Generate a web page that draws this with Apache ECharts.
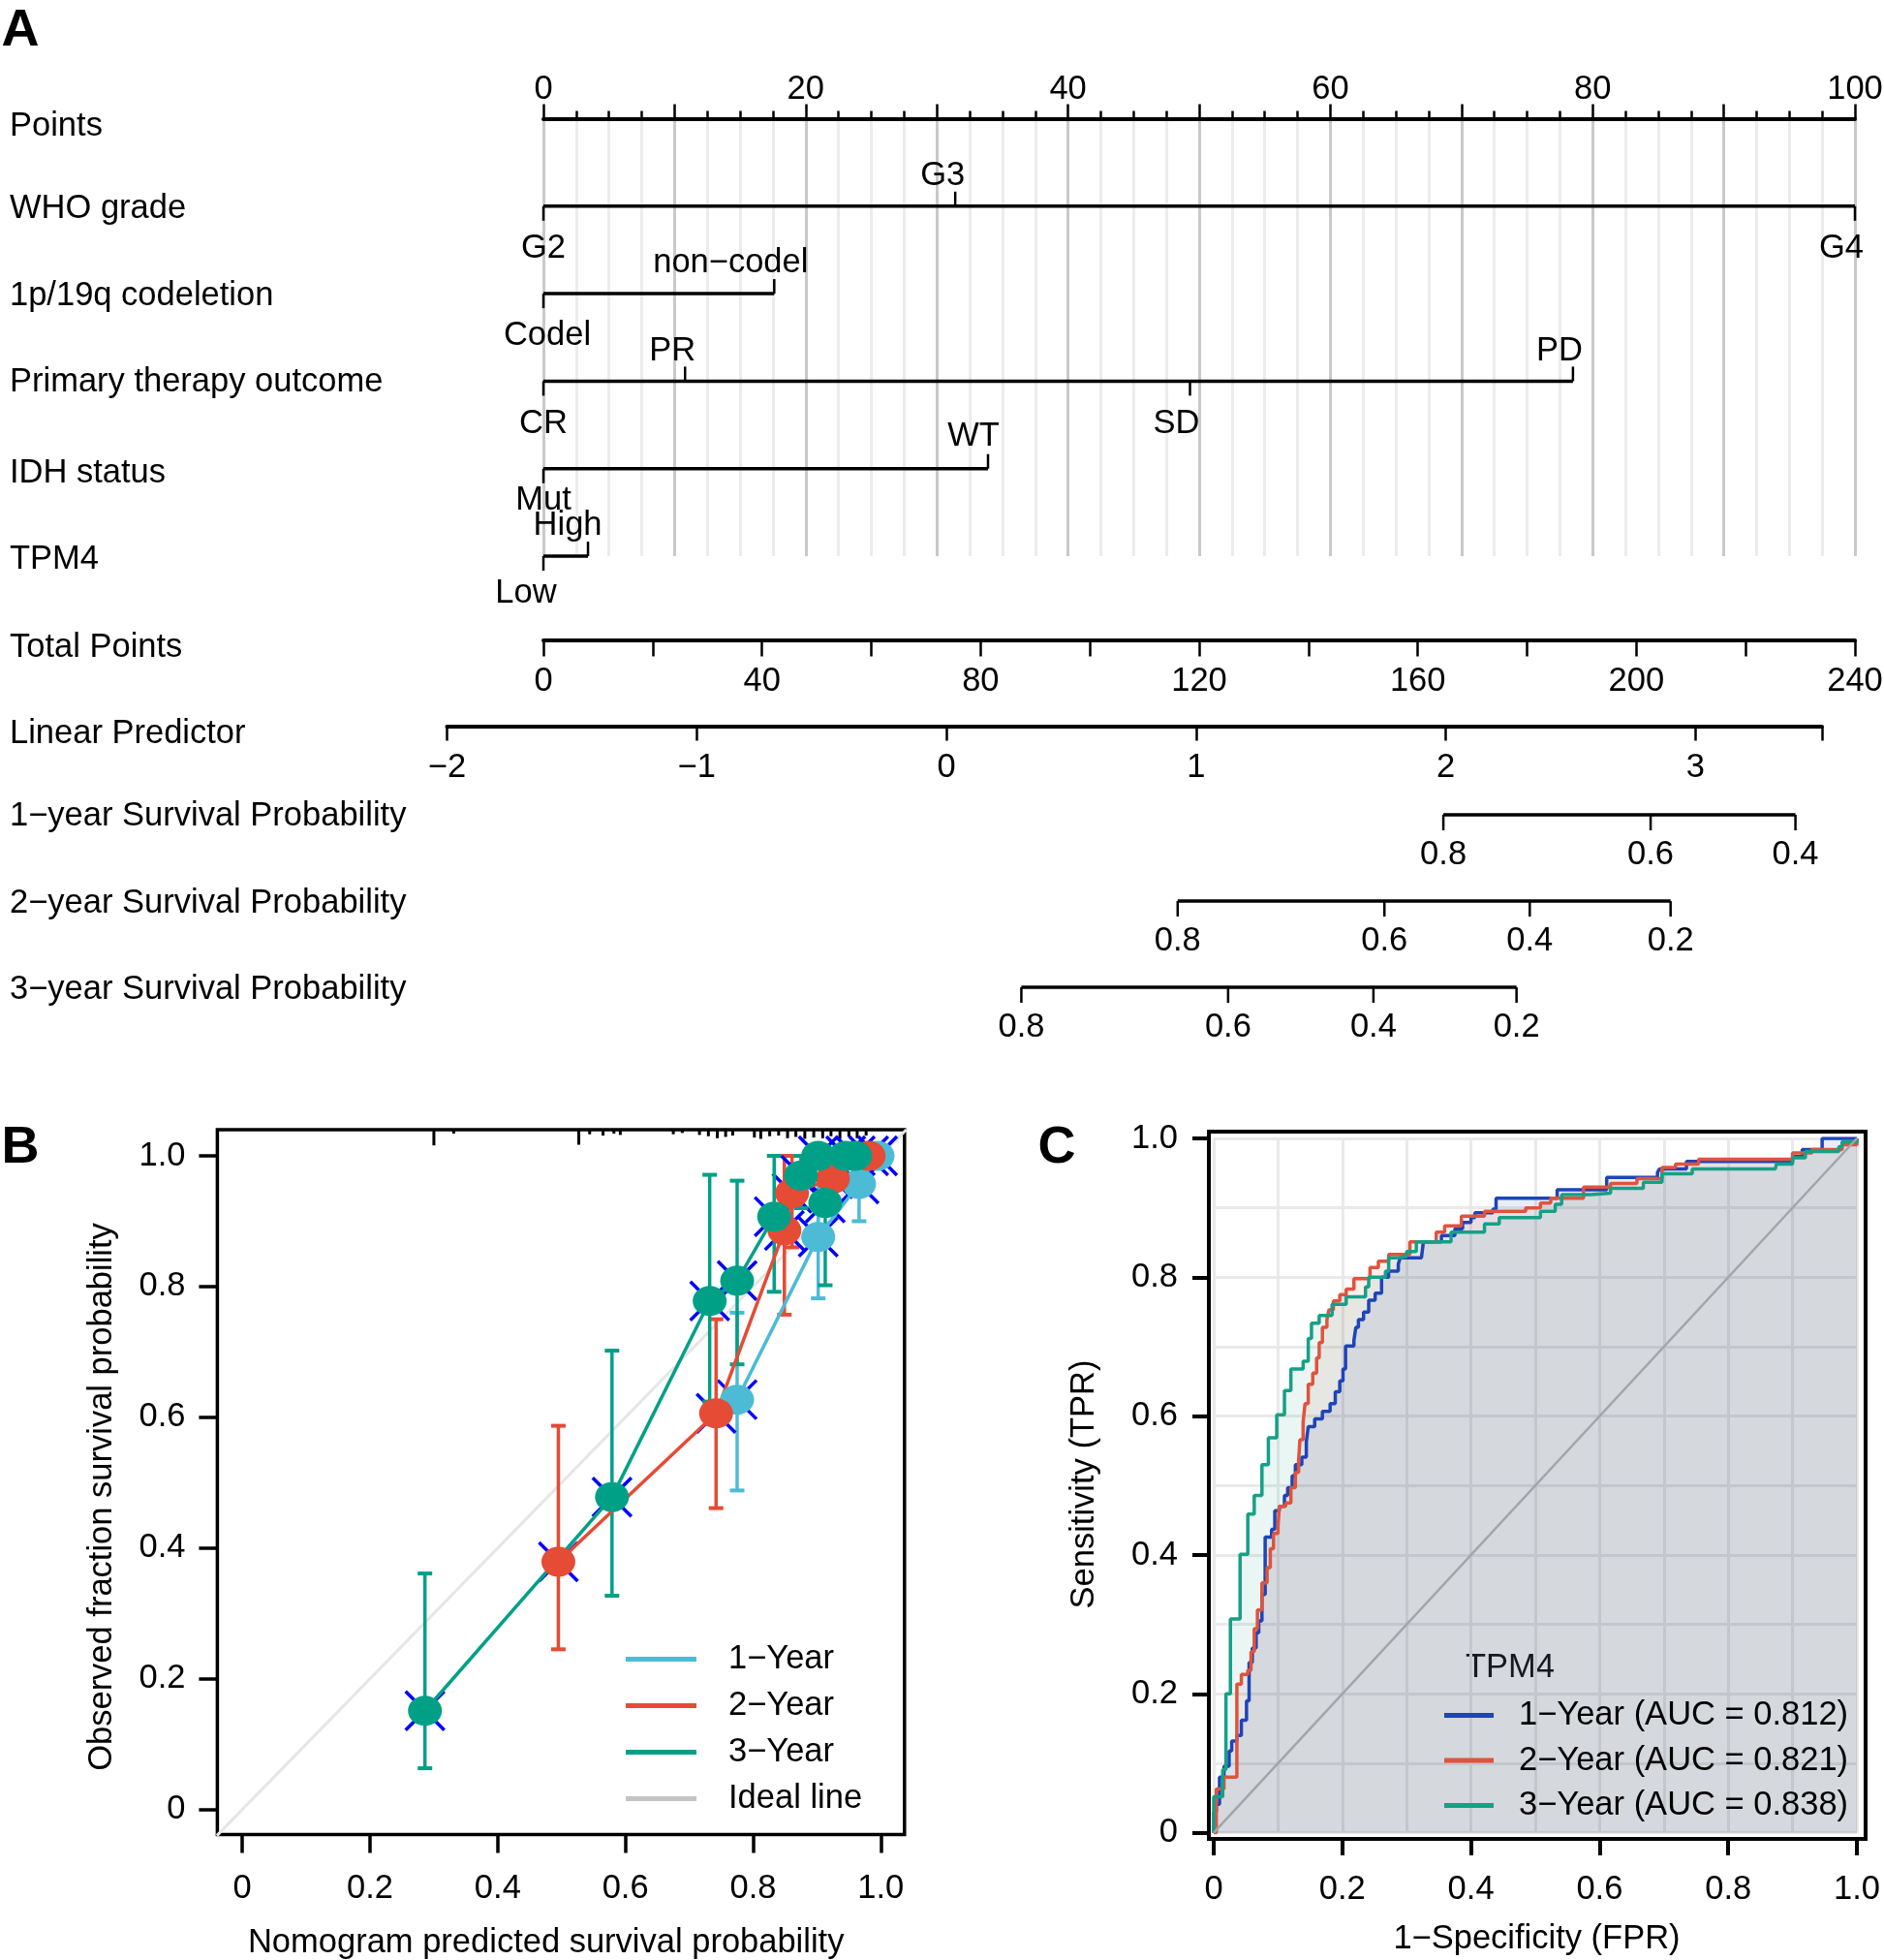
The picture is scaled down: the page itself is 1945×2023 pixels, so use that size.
<!DOCTYPE html>
<html><head><meta charset="utf-8">
<script src="https://cdn.jsdelivr.net/npm/echarts@6/dist/echarts.min.js"></script>
<style>html,body{margin:0;padding:0;background:#fff}#c{width:1945px;height:2023px}</style>
</head><body><div id="c"></div>
<script>
// ================= DATA =================
// Panel A – nomogram
const pointsRange = [0, 100];
const whoGradeLevels = ['G2', 'G3', 'G4'];
const whoGradePoints = [0, 31.4, 100];
const codelLevels = ['Codel', 'non−codel'];
const codelPoints = [0, 17.6];
const therapyLevels = ['CR', 'PR', 'SD', 'PD'];
const therapyPoints = [0, 10.8, 49.3, 78.5];
const idhLevels = ['Mut', 'WT'];
const idhPoints = [0, 33.9];
const tpm4Levels = ['Low', 'High'];
const tpm4Points = [0, 3.4];
const totalPointsRange = [0, 240];
const linearPredictorRange = [-2, 3.506];
const surv1Labels = ['0.8', '0.6', '0.4'];
const surv1LP = [1.99, 2.82, 3.40];
const surv2Labels = ['0.8', '0.6', '0.4', '0.2'];
const surv2LP = [0.926, 1.754, 2.336, 2.90];
const surv3Labels = ['0.8', '0.6', '0.4', '0.2'];
const surv3LP = [0.30, 1.128, 1.71, 2.283];
const rowNames = ['Points', 'WHO grade', '1p/19q codeletion', 'Primary therapy outcome', 'IDH status', 'TPM4',
  'Total Points', 'Linear Predictor', '1−year Survival Probability', '2−year Survival Probability', '3−year Survival Probability'];

// Panel B – calibration
const calNames = ['1−Year', '2−Year', '3−Year'];
const cal1X = [0.775, 0.902, 0.966, 0.995];
const cal1Y = [0.627, 0.876, 0.957, 1.0];
const cal1Lo = [0.488, 0.782, 0.900, 1.0];
const cal1Hi = [0.760, 0.970, 1.0, 1.0];
const cal2X = [0.495, 0.742, 0.849, 0.861, 0.925, 0.981];
const cal2Y = [0.379, 0.606, 0.886, 0.943, 0.965, 1.0];
const cal2Lo = [0.245, 0.461, 0.757, 0.860, 0.920, 1.0];
const cal2Hi = [0.587, 0.750, 1.0, 1.0, 1.0, 1.0];
const cal3X = [0.286, 0.579, 0.732, 0.775, 0.833, 0.875, 0.902, 0.913, 0.945, 0.960];
const cal3Y = [0.151, 0.478, 0.778, 0.809, 0.907, 0.970, 1.0, 0.928, 1.0, 1.0];
const cal3Lo = [0.063, 0.327, 0.624, 0.681, 0.792, 0.920, 1.0, 0.802, 1.0, 1.0];
const cal3Hi = [0.361, 0.702, 0.971, 0.962, 1.0, 1.0, 1.0, 1.0, 1.0, 1.0];
const calAxisExtent = [-0.04, 1.04];
const rugX = [0.300, 0.331, 0.527, 0.544, 0.565, 0.582, 0.592, 0.675, 0.689, 0.716, 0.730, 0.744, 0.757, 0.768,
  0.802, 0.812, 0.826, 0.840, 0.854, 0.867, 0.881, 0.895, 0.909, 0.922, 0.936, 0.950, 0.963, 0.977];
const rugH = [0.024, 0.006, 0.023, 0.007, 0.009, 0.006, 0.008, 0.007, 0.005, 0.008, 0.010, 0.013, 0.011, 0.009,
  0.012, 0.014, 0.010, 0.009, 0.013, 0.011, 0.014, 0.012, 0.013, 0.010, 0.014, 0.011, 0.013, 0.009];

// Panel C – ROC
const rocYears = ['1−Year', '2−Year', '3−Year'];
const aucValues = [0.812, 0.821, 0.838];
const roc1 = [[0,0],[0,0.03],[0.004,0.041],[0.009,0.08],[0.016,0.096],[0.024,0.118],[0.028,0.132],[0.036,0.14],[0.043,0.162],[0.051,0.19],[0.055,0.245],[0.06,0.266],[0.066,0.288],[0.07,0.305],[0.075,0.343],[0.08,0.371],[0.08,0.426],[0.09,0.437],[0.095,0.464],[0.102,0.47],[0.11,0.486],[0.115,0.497],[0.122,0.514],[0.127,0.53],[0.137,0.541],[0.144,0.563],[0.147,0.585],[0.157,0.596],[0.169,0.607],[0.181,0.618],[0.189,0.635],[0.196,0.651],[0.201,0.668],[0.205,0.701],[0.218,0.709],[0.221,0.728],[0.225,0.739],[0.233,0.75],[0.241,0.767],[0.251,0.777],[0.261,0.8],[0.272,0.809],[0.287,0.819],[0.29,0.828],[0.323,0.828],[0.326,0.851],[0.354,0.86],[0.375,0.87],[0.387,0.879],[0.4,0.886],[0.406,0.893],[0.434,0.898],[0.439,0.914],[0.534,0.914],[0.534,0.926],[0.58,0.926],[0.611,0.935],[0.611,0.944],[0.665,0.944],[0.69,0.951],[0.693,0.956],[0.735,0.956],[0.735,0.967],[0.879,0.967],[0.9,0.974],[0.915,0.984],[0.946,0.986],[0.946,1.0],[1,1]];
const roc2 = [[0,0],[0.004,0.063],[0.016,0.08],[0.036,0.091],[0.036,0.214],[0.043,0.228],[0.053,0.234],[0.058,0.261],[0.063,0.294],[0.068,0.321],[0.075,0.36],[0.083,0.382],[0.088,0.409],[0.093,0.431],[0.1,0.442],[0.102,0.47],[0.112,0.475],[0.12,0.497],[0.127,0.519],[0.132,0.536],[0.134,0.566],[0.139,0.591],[0.142,0.618],[0.147,0.646],[0.154,0.662],[0.16,0.684],[0.164,0.706],[0.169,0.728],[0.176,0.739],[0.179,0.753],[0.186,0.766],[0.196,0.775],[0.206,0.783],[0.218,0.798],[0.243,0.814],[0.256,0.823],[0.272,0.833],[0.305,0.851],[0.346,0.865],[0.359,0.874],[0.385,0.888],[0.421,0.895],[0.485,0.9],[0.508,0.907],[0.524,0.914],[0.575,0.93],[0.617,0.935],[0.658,0.942],[0.697,0.958],[0.718,0.963],[0.754,0.97],[0.879,0.97],[0.9,0.979],[0.93,0.984],[0.977,0.991],[1,1]];
const roc3 = [[0,0],[0,0.052],[0.014,0.091],[0.019,0.2],[0.026,0.308],[0.041,0.401],[0.053,0.459],[0.063,0.486],[0.075,0.53],[0.085,0.569],[0.098,0.602],[0.11,0.637],[0.12,0.668],[0.139,0.679],[0.147,0.712],[0.152,0.734],[0.164,0.745],[0.184,0.761],[0.206,0.772],[0.236,0.786],[0.241,0.8],[0.267,0.809],[0.272,0.828],[0.287,0.83],[0.3,0.837],[0.315,0.851],[0.369,0.865],[0.421,0.877],[0.444,0.886],[0.508,0.895],[0.531,0.905],[0.541,0.919],[0.586,0.921],[0.617,0.928],[0.668,0.937],[0.697,0.949],[0.744,0.956],[0.873,0.956],[0.875,0.963],[0.9,0.972],[0.92,0.981],[0.972,0.988],[0.977,0.995],[1,1]];

// ================= STYLE =================
const FONT = '"Liberation Sans", Arial, Helvetica, sans-serif';
const FS = 34.5;
const FONTSTR = FS + 'px ' + FONT;
const TDY = 2.6;   // small vertical nudge for free text
const calColors = ['#4DBBD5', '#E64B35', '#00A087'];
const rocColors = ['#1E44B8', '#E0533C', '#16A086'];
const labelShift = {'G3': -13, 'G4': -14, 'non−codel': -45, 'PR': -13, 'SD': -14, 'PD': -14, 'WT': -15, 'High': -21, 'Low': -18, 'Codel': 4};
const labelDist = {'Mut': 30, 'Low': 36, 'WT': 36};
const rowLabelY = [127.7, 212.8, 303, 392, 486, 575, 665.6, 754.6, 839.8, 930, 1019];

// ================= BUILD =================
const nomVars = [
  {levels: whoGradeLevels, pts: whoGradePoints},
  {levels: codelLevels, pts: codelPoints},
  {levels: therapyLevels, pts: therapyPoints},
  {levels: idhLevels, pts: idhPoints},
  {levels: tpm4Levels, pts: tpm4Points}
];
const nomTickData = [], nomLineData = [];
nomVars.forEach((v, vi) => {
  v.pts.forEach((p, li) => nomTickData.push([p, vi + 1, vi, li]));
  nomLineData.push([Math.min(...v.pts), Math.max(...v.pts), vi + 1]);
});
const survVars = [
  {levels: surv1Labels, lp: surv1LP},
  {levels: surv2Labels, lp: surv2LP},
  {levels: surv3Labels, lp: surv3LP}
];
const survTickData = [], survLineData = [];
survVars.forEach((v, si) => {
  v.lp.forEach((p, li) => survTickData.push([p, si, si, li]));
  survLineData.push([Math.min(...v.lp), Math.max(...v.lp), si]);
});

function txt(text, x, y, extra) {
  return Object.assign({text: text, x: x, y: y, fill: '#000', font: FONTSTR,
    align: 'center', verticalAlign: 'middle', textAlign: 'center', textVerticalAlign: 'middle'}, extra || {});
}

function renderRowLine(params, api) {
  const p1 = api.coord([api.value(0), api.value(2)]);
  const p2 = api.coord([api.value(1), api.value(2)]);
  return {type: 'line', shape: {x1: p1[0], y1: p1[1], x2: p2[0], y2: p2[1]},
    style: {stroke: '#000', lineWidth: 3.5}};
}
function renderNomTick(params, api) {
  const vi = api.value(2), li = api.value(3);
  const v = nomVars[vi];
  const sorted = v.pts.slice().sort((a, b) => a - b);
  const up = sorted.indexOf(v.pts[li]) % 2 === 1;
  const dir = up ? -1 : 1;
  const name = v.levels[li];
  const pt = api.coord([api.value(0), api.value(1)]);
  const dist = labelDist[name] != null ? labelDist[name] : (up ? 34 : 41);
  return {type: 'group', children: [
    {type: 'line', shape: {x1: pt[0], y1: pt[1], x2: pt[0], y2: pt[1] + dir * 15}, style: {stroke: '#000', lineWidth: 2.5}},
    {type: 'text', style: txt(name, pt[0] + (labelShift[name] || 0), pt[1] + dir * dist + TDY)}
  ]};
}
function renderSurvTick(params, api) {
  const si = api.value(2), li = api.value(3);
  const pt = api.coord([api.value(0), api.value(1)]);
  return {type: 'group', children: [
    {type: 'line', shape: {x1: pt[0], y1: pt[1], x2: pt[0], y2: pt[1] + 16}, style: {stroke: '#000', lineWidth: 2.5}},
    {type: 'text', style: txt(survVars[si].levels[li], pt[0], pt[1] + 39 + TDY)}
  ]};
}
function makeErrRender(color) {
  return function (params, api) {
    const p1 = api.coord([api.value(0), api.value(1)]);
    const p2 = api.coord([api.value(0), api.value(2)]);
    const c = 7.5;
    return {type: 'group', children: [
      {type: 'line', shape: {x1: p1[0], y1: p1[1], x2: p2[0], y2: p2[1]}, style: {stroke: color, lineWidth: 3.5}},
      {type: 'line', shape: {x1: p1[0] - c, y1: p1[1], x2: p1[0] + c, y2: p1[1]}, style: {stroke: color, lineWidth: 4}},
      {type: 'line', shape: {x1: p2[0] - c, y1: p2[1], x2: p2[0] + c, y2: p2[1]}, style: {stroke: color, lineWidth: 4}}
    ]};
  };
}
function renderX(params, api) {
  const p = api.coord([api.value(0), api.value(1)]);
  const a = 20;
  return {type: 'group', children: [
    {type: 'line', shape: {x1: p[0] - a, y1: p[1] - a, x2: p[0] + a, y2: p[1] + a}, style: {stroke: '#0000FF', lineWidth: 3.5}},
    {type: 'line', shape: {x1: p[0] - a, y1: p[1] + a, x2: p[0] + a, y2: p[1] - a}, style: {stroke: '#0000FF', lineWidth: 3.5}}
  ]};
}
function renderRug(params, api) {
  const top = calAxisExtent[1];
  const p1 = api.coord([api.value(0), top]);
  const p2 = api.coord([api.value(0), top - api.value(1)]);
  return {type: 'line', shape: {x1: p1[0], y1: p1[1], x2: p2[0], y2: p2[1]}, style: {stroke: '#000', lineWidth: 3}};
}
function renderIdeal(params, api) {
  const p1 = api.coord([api.value(0), api.value(0)]);
  const p2 = api.coord([api.value(1), api.value(1)]);
  return {type: 'line', shape: {x1: p1[0], y1: p1[1], x2: p2[0], y2: p2[1]}, style: {stroke: '#e6e6e6', lineWidth: 3}};
}

const probFmt = v => (Math.abs(v) < 1e-9 ? '0' : Number(v).toFixed(1));
const lab = (extra) => Object.assign({fontSize: FS, fontFamily: FONT, color: '#000'}, extra);
const hiddenAxis = (gi, min, max, inverse) => ({type: 'value', gridIndex: gi, min: min, max: max, inverse: !!inverse, show: false});

const gridBase = {containLabel: false, outerBoundsMode: 'none'};
const grids = [
  {left: 561, top: 122.5, width: 1354, height: 451.5},
  {left: 561, top: 600, width: 1354, height: 60.4},
  {left: 461.5, top: 700, width: 1419.4, height: 49.4},
  {left: 461.5, top: 841, width: 1419.4, height: 178},
  {left: 250.2, top: 1193, width: 659.1, height: 674.6},
  {left: 224.4, top: 1166, width: 709.4, height: 727.4, show: true, borderColor: '#000', borderWidth: 3.5, backgroundColor: 'transparent'},
  {left: 1253, top: 1175, width: 664, height: 716.7},
  {left: 1248, top: 1168, width: 678, height: 730, show: true, borderColor: '#000', borderWidth: 4, backgroundColor: 'transparent'}
].map(g => Object.assign({}, gridBase, g));

const xAxes = [
  {type: 'value', gridIndex: 0, min: pointsRange[0], max: pointsRange[1], interval: 10, position: 'top',
    axisLine: {show: true, onZero: false, lineStyle: {color: '#000', width: 4}},
    axisTick: {show: true, length: 15, lineStyle: {color: '#000', width: 2.5}},
    minorTick: {show: true, splitNumber: 4, length: 8, lineStyle: {color: '#000', width: 2.5}},
    axisLabel: lab({margin: 13, formatter: v => (Math.round(v) % 20 === 0 ? String(Math.round(v)) : '')}),
    splitLine: {show: true, lineStyle: {color: '#c9c9c9', width: 3}},
    minorSplitLine: {show: true, lineStyle: {color: '#ececec', width: 3}}},
  {type: 'value', gridIndex: 1, min: totalPointsRange[0], max: totalPointsRange[1], interval: 20, position: 'bottom',
    axisLine: {show: true, onZero: false, lineStyle: {color: '#000', width: 4}},
    axisTick: {show: true, length: 17, lineStyle: {color: '#000', width: 2.5}},
    axisLabel: lab({margin: 25.3, formatter: v => (Math.round(v) % 40 === 0 ? String(Math.round(v)) : '')}),
    splitLine: {show: false}},
  {type: 'value', gridIndex: 2, min: linearPredictorRange[0], max: linearPredictorRange[1], interval: 1, position: 'bottom',
    axisLine: {show: true, onZero: false, lineStyle: {color: '#000', width: 4}},
    axisTick: {show: true, length: 15, lineStyle: {color: '#000', width: 2.5}},
    axisLabel: lab({margin: 25.3, showMaxLabel: true, formatter: v => (Math.abs(v - Math.round(v)) < 1e-6 ? (v < 0 ? '−' + Math.abs(Math.round(v)) : String(Math.round(v))) : '')}),
    splitLine: {show: false}},
  hiddenAxis(3, linearPredictorRange[0], linearPredictorRange[1]),
  {type: 'value', gridIndex: 4, min: 0, max: 1, interval: 0.2, position: 'bottom', offset: 25.8,
    axisLine: {show: false, onZero: false},
    axisTick: {show: true, length: 19, lineStyle: {color: '#000', width: 3.5}},
    axisLabel: lab({margin: 38.6, formatter: probFmt}),
    splitLine: {show: false}},
  hiddenAxis(5, 0, 1),
  {type: 'value', gridIndex: 6, min: 0, max: 1, interval: 0.2, position: 'bottom', offset: 6.3,
    axisLine: {show: false, onZero: false},
    axisTick: {show: true, length: 17, lineStyle: {color: '#000', width: 4}},
    minorTick: {show: false, splitNumber: 2},
    axisLabel: lab({margin: 34.6, formatter: probFmt}),
    splitLine: {show: true, lineStyle: {color: '#e9e9e9', width: 3}},
    minorSplitLine: {show: true, lineStyle: {color: '#e9e9e9', width: 3}}},
  hiddenAxis(7, 0, 1)
];
const yAxes = [
  hiddenAxis(0, 0, 5, true),
  hiddenAxis(1, 0, 1),
  hiddenAxis(2, 0, 1),
  hiddenAxis(3, 0, 2, true),
  {type: 'value', gridIndex: 4, min: 0, max: 1, interval: 0.2, position: 'left', offset: 25.8,
    axisLine: {show: false, onZero: false},
    axisTick: {show: true, length: 19, lineStyle: {color: '#000', width: 3.5}},
    axisLabel: lab({margin: 33, padding: [5, 0, 0, 0], formatter: probFmt}),
    splitLine: {show: false}},
  hiddenAxis(5, 0, 1),
  {type: 'value', gridIndex: 6, min: 0, max: 1, interval: 0.2, position: 'left', offset: 5,
    axisLine: {show: false, onZero: false},
    axisTick: {show: true, length: 17, lineStyle: {color: '#000', width: 4}},
    minorTick: {show: false, splitNumber: 2},
    axisLabel: lab({margin: 32, padding: [4, 0, 0, 0], formatter: probFmt}),
    splitLine: {show: true, lineStyle: {color: '#e9e9e9', width: 3}},
    minorSplitLine: {show: true, lineStyle: {color: '#e9e9e9', width: 3}}},
  hiddenAxis(7, 0, 1)
];

const series = [];
// Panel A
series.push({type: 'custom', name: 'nomLines', xAxisIndex: 0, yAxisIndex: 0, renderItem: renderRowLine, data: nomLineData, silent: true});
series.push({type: 'custom', name: 'nomTicks', xAxisIndex: 0, yAxisIndex: 0, renderItem: renderNomTick, data: nomTickData, silent: true});
series.push({type: 'custom', name: 'survLines', xAxisIndex: 3, yAxisIndex: 3, renderItem: renderRowLine, data: survLineData, silent: true});
series.push({type: 'custom', name: 'survTicks', xAxisIndex: 3, yAxisIndex: 3, renderItem: renderSurvTick, data: survTickData, silent: true});

// Panel B
series.push({type: 'line', name: 'Ideal line', xAxisIndex: 4, yAxisIndex: 4, symbol: 'none', data: [],
  itemStyle: {color: '#c4c4c4'}, lineStyle: {color: '#c4c4c4', width: 3}, silent: true});
series.push({type: 'custom', name: 'idealDraw', xAxisIndex: 4, yAxisIndex: 4, clip: false, renderItem: renderIdeal,
  data: [[calAxisExtent[0], calAxisExtent[1]]], silent: true});
series.push({type: 'custom', name: 'rug', xAxisIndex: 4, yAxisIndex: 4, clip: false, renderItem: renderRug,
  data: rugX.map((x, i) => [x, rugH[i]]), silent: true});
const calSets = [[cal1X, cal1Y, cal1Lo, cal1Hi], [cal2X, cal2Y, cal2Lo, cal2Hi], [cal3X, cal3Y, cal3Lo, cal3Hi]];
calSets.forEach((s, k) => {
  const [xs, ys, lo, hi] = s;
  series.push({type: 'custom', name: 'err' + k, xAxisIndex: 4, yAxisIndex: 4, renderItem: makeErrRender(calColors[k]),
    data: xs.map((x, i) => [x, lo[i], hi[i]]), silent: true});
  series.push({type: 'custom', name: 'cross' + k, xAxisIndex: 4, yAxisIndex: 4, renderItem: renderX,
    data: xs.map((x, i) => [x, ys[i]]), silent: true});
  series.push({type: 'line', name: calNames[k], xAxisIndex: 4, yAxisIndex: 4, clip: false,
    symbol: 'circle', symbolSize: [35, 31], showAllSymbol: true,
    itemStyle: {color: calColors[k]}, lineStyle: {color: calColors[k], width: 3.5},
    data: xs.map((x, i) => [x, ys[i]]), silent: true});
});

// Panel C
const rocSets = [roc1, roc2, roc3];
const rocNames = rocYears.map((y, i) => y + ' (AUC = ' + aucValues[i].toFixed(3) + ')');
rocSets.forEach((d, k) => {
  series.push({type: 'line', name: rocNames[k], xAxisIndex: 6, yAxisIndex: 6, step: 'end', symbol: 'none',
    data: d, itemStyle: {color: rocColors[k]}, lineStyle: {color: rocColors[k], width: 3.5},
    areaStyle: {color: rocColors[k], opacity: 0.095}, silent: true});
});
series.push({type: 'line', name: 'diag', xAxisIndex: 6, yAxisIndex: 6, symbol: 'none', data: [[0, 0], [1, 1]],
  lineStyle: {color: '#a2a6aa', width: 2.5}, itemStyle: {color: '#a2a6aa'}, silent: true});

// Text elements
const graphics = [];
rowNames.forEach((n, i) => graphics.push({type: 'text', x: 10, y: rowLabelY[i] + TDY,
  style: txt(n, 0, 0, {align: 'left', textAlign: 'left'})}));
graphics.push({type: 'text', x: 21, y: 30 + TDY, style: txt('A', 0, 0, {font: 'bold 54px ' + FONT})});
graphics.push({type: 'text', x: 21, y: 1183 + TDY, style: txt('B', 0, 0, {font: 'bold 54px ' + FONT})});
graphics.push({type: 'text', x: 1091, y: 1183 + TDY, style: txt('C', 0, 0, {font: 'bold 54px ' + FONT})});
graphics.push({type: 'text', x: 563.7, y: 2003 + TDY, style: txt('Nomogram predicted survival probability', 0, 0)});
graphics.push({type: 'text', x: 105.8, y: 1545, rotation: Math.PI / 2, style: txt('Observed fraction survival probability', 0, 0)});
graphics.push({type: 'text', x: 1119.6, y: 1532, rotation: Math.PI / 2, style: txt('Sensitivity (TPR)', 0, 0)});
graphics.push({type: 'text', x: 1586.5, y: 1999 + TDY, style: txt('1−Specificity (FPR)', 0, 0)});
graphics.push({type: 'text', x: 1513, y: 1719 + TDY, style: txt('TPM4', 0, 0, {align: 'left', textAlign: 'left'})});

const option = {
  animation: false,
  backgroundColor: '#ffffff',
  textStyle: {fontFamily: FONT},
  grid: grids,
  xAxis: xAxes,
  yAxis: yAxes,
  legend: [
    {data: [calNames[0], calNames[1], calNames[2], {name: 'Ideal line', itemStyle: {color: '#c4c4c4'}}],
      left: 641, top: 1687.5, orient: 'vertical', icon: 'rect', itemWidth: 73, itemHeight: 5, itemGap: 8,
      selectedMode: false, textStyle: {fontSize: FS, fontFamily: FONT, color: '#000', lineHeight: 40, padding: [0, 0, 0, 28]}},
    {data: rocNames, left: 1486, top: 1745.5, orient: 'vertical', icon: 'rect', itemWidth: 51, itemHeight: 5, itemGap: 6.5,
      selectedMode: false, textStyle: {fontSize: FS, fontFamily: FONT, color: '#000', lineHeight: 40, padding: [0, 0, 0, 21]}}
  ],
  graphic: graphics,
  series: series
};
const chart = echarts.init(document.getElementById('c'), null, {renderer: 'canvas'});
chart.setOption(option);
</script>
</body></html>
